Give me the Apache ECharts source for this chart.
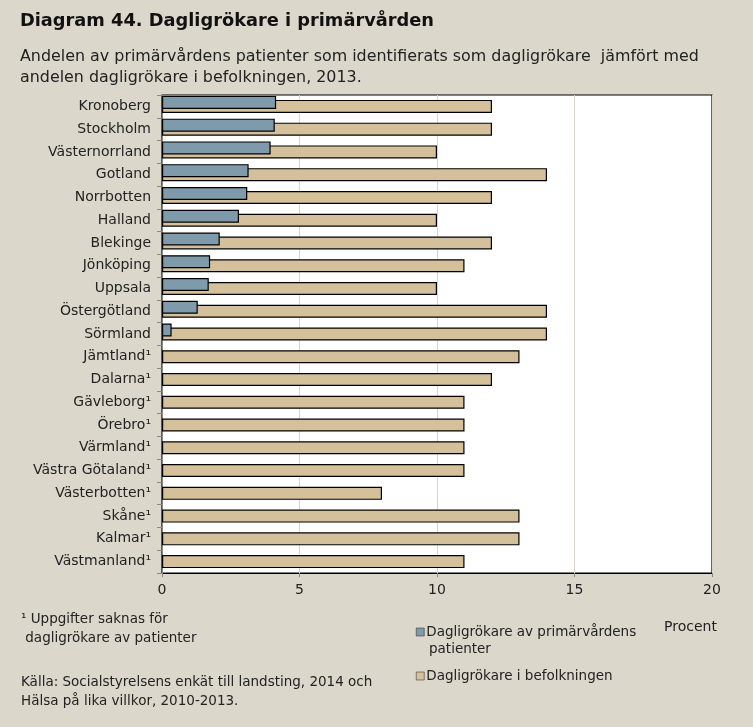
<!DOCTYPE html>
<html><head><meta charset="utf-8">
<script src="https://cdn.jsdelivr.net/npm/echarts@6/dist/echarts.min.js"></script>
<style>html,body{margin:0;padding:0;background:#dbd8cb;}#c{width:753px;height:727px;}</style>
</head><body><div id="c"></div>
<script>
const categories = ["Kronoberg","Stockholm","Västernorrland","Gotland","Norrbotten","Halland","Blekinge","Jönköping","Uppsala","Östergötland","Sörmland","Jämtland¹","Dalarna¹","Gävleborg¹","Örebro¹","Värmland¹","Västra Götaland¹","Västerbotten¹","Skåne¹","Kalmar¹","Västmanland¹"];
const patients = [4.15,4.1,3.95,3.15,3.1,2.8,2.1,1.75,1.7,1.3,0.35,null,null,null,null,null,null,null,null,null,null];
const population = [12,12,10,14,12,10,12,11,10,14,14,13,12,11,11,11,11,8,13,13,11];
const xTicks = {min:0,max:20,interval:5};
const nameA = "Dagligrökare av primärvårdens patienter";
const nameB = "Dagligrökare i befolkningen";

const FONT = "DejaVu Sans";
const chart = echarts.init(document.getElementById('c'));
chart.setOption({
  backgroundColor:'#dbd8cb',
  animation:false,
  textStyle:{fontFamily:FONT},
  title:[
    {text:"Diagram 44. Dagligrökare i primärvården",left:15,top:7,textStyle:{fontFamily:FONT,fontSize:17.8,fontWeight:'bold',color:'#111'}},
    {text:"Andelen av primärvårdens patienter som identifierats som dagligrökare  jämfört med\nandelen dagligrökare i befolkningen, 2013.",left:15,top:41,textStyle:{fontFamily:FONT,fontSize:15.9,fontWeight:'normal',color:'#222',lineHeight:21}},
    {text:"¹ Uppgifter saknas för\n dagligrökare av patienter",left:16,top:605,textStyle:{fontFamily:FONT,fontSize:13.5,fontWeight:'normal',color:'#222',lineHeight:19}},
    {text:"Källa: Socialstyrelsens enkät till landsting, 2014 och\nHälsa på lika villkor, 2010-2013.",left:16,top:668,textStyle:{fontFamily:FONT,fontSize:13.5,fontWeight:'normal',color:'#222',lineHeight:19}},
    {text:"Procent",left:659,top:615,textStyle:{fontFamily:FONT,fontSize:14,fontWeight:'normal',color:'#222'}},
    {text:"patienter",left:424,top:637,textStyle:{fontFamily:FONT,fontSize:13.5,fontWeight:'normal',color:'#222'}}
  ],
  legend:{orient:'vertical',left:411,top:620,itemWidth:8,itemHeight:8,itemGap:30,icon:'rect',
    itemStyle:{borderColor:'#222',borderWidth:0.5},
    formatter:function(n){return n===nameA?"Dagligrökare av primärvårdens":n;},
    textStyle:{fontFamily:FONT,fontSize:13.5,color:'#222',padding:[0,0,0,-3]},
    data:[nameA,nameB]},
  grid:[
    {left:162,right:41,top:95,bottom:154,show:true,backgroundColor:'#fff',borderColor:'#000',borderWidth:1.2},
    {left:162,right:41,top:91,bottom:158,show:false}
  ],
  xAxis:[
    {gridIndex:0,type:'value',min:xTicks.min,max:xTicks.max,interval:xTicks.interval,
     axisLine:{show:true,lineStyle:{color:'#000'}},axisTick:{show:true,length:4,lineStyle:{color:'#888'}},
     axisLabel:{fontFamily:FONT,fontSize:14,color:'#222',margin:10},
     splitLine:{show:true,lineStyle:{color:'#d9d6c9',width:1}}},
    {gridIndex:1,type:'value',min:xTicks.min,max:xTicks.max,interval:xTicks.interval,show:false}
  ],
  yAxis:[
    {gridIndex:0,type:'category',data:categories,inverse:true,
     axisLine:{show:true,lineStyle:{color:'#888'}},axisTick:{show:true,length:5,lineStyle:{color:'#888'}},
     axisLabel:{fontFamily:FONT,fontSize:14,color:'#222',margin:11},splitLine:{show:false}},
    {gridIndex:1,type:'category',data:categories,inverse:true,show:false}
  ],
  series:[
    {name:nameB,type:'bar',xAxisIndex:0,yAxisIndex:0,data:population,barWidth:13,z:2,
     itemStyle:{color:'#d4c09a',borderColor:'#000',borderWidth:1.2}},
    {name:nameA,type:'bar',xAxisIndex:1,yAxisIndex:1,data:patients,barWidth:13,z:3,
     itemStyle:{color:'#7f9aab',borderColor:'#000',borderWidth:1.2}}
  ]
});
</script></body></html>
